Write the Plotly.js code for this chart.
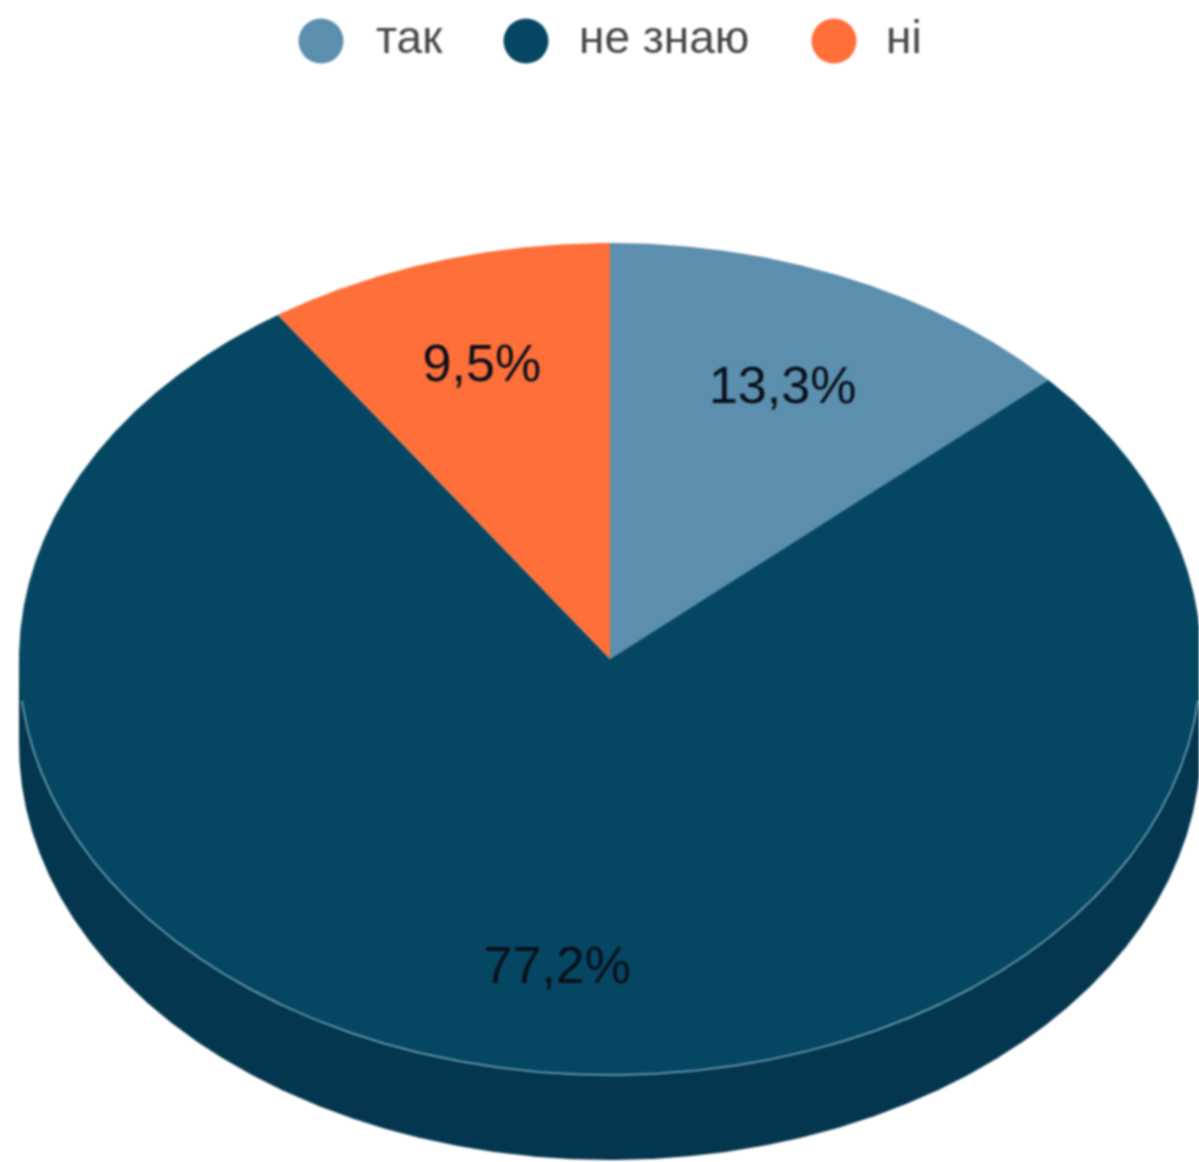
<!DOCTYPE html>
<html>
<head>
<meta charset="utf-8">
<script src="https://cdn.plot.ly/plotly-3.0.1.min.js"></script>
<style>
html,body{margin:0;padding:0;background:#fff;overflow:hidden}
#chart{width:1199px;height:1162px;filter:blur(1px)}
</style>
</head>
<body>
<div id="chart"></div>
<script>
// Data
const categories = ['так', 'не знаю', 'ні'];
const shares = [13.3, 77.2, 9.5];
const shareLabels = ['13,3%', '77,2%', '9,5%'];

// Styles
const sliceColors = ['#5b8fad', '#054763', '#fe6f39'];
const wallColor = '#04374f';
const rimColor = 'rgba(175,215,235,0.7)';
const labelColor = '#0a0f1a';
const legendTextColor = '#464646';

// Pixel layout of the tilted disc
const W = 1199, H = 1162;
const cx = 610, cy = 659, rx = 591, ry = 416, depth = 85;
const depthU = depth / ry;
const labelR = 0.72;
const labelNudgeX = [0, -2, -3];
const labelNudgeY = [5, 14, -5];
const legendX = [321, 526, 834];
const legendTextX = [376, 579, 886];
const legendY = 41;

// Disc is in unit coordinates: ellipse is x = sin(a), y = cos(a), scaled by the axes
const pt = a => [Math.sin(a), Math.cos(a)];
const arc = (a0, a1, dy) => {
  const n = Math.max(2, Math.ceil(Math.abs(a1 - a0) / 0.005));
  const xs = [], ys = [];
  for (let i = 0; i <= n; i++) {
    const p = pt(a0 + (a1 - a0) * i / n);
    xs.push(p[0]); ys.push(p[1] - (dy || 0));
  }
  return [xs, ys];
};

const total = shares.reduce((s, v) => s + v, 0);
const traces = [];

// Side wall
const wallLo = arc(Math.PI / 2, 3 * Math.PI / 2, depthU);
traces.push({
  type: 'scatter', mode: 'lines', fill: 'toself', fillcolor: wallColor,
  line: {width: 0, color: wallColor}, hoverinfo: 'skip', showlegend: false,
  x: [1, ...wallLo[0], -1, 1],
  y: [0, ...wallLo[1], 0, 0]
});

// Slices
let acc = 0;
const mids = [];
shares.forEach((v, i) => {
  const a0 = acc / total * 2 * Math.PI;
  acc += v;
  const a1 = acc / total * 2 * Math.PI;
  mids.push((a0 + a1) / 2);
  const [xs, ys] = arc(a0, a1);
  traces.push({
    type: 'scatter', mode: 'lines', fill: 'toself', fillcolor: sliceColors[i],
    line: {width: 0, color: sliceColors[i]}, hoverinfo: 'skip', showlegend: false,
    name: categories[i],
    x: [0, ...xs, 0], y: [0, ...ys, 0]
  });
});

// Front rim highlight
const rimMargin = 0.1;
const rim = arc(Math.PI / 2 + rimMargin, 3 * Math.PI / 2 - rimMargin);
traces.push({
  type: 'scatter', mode: 'lines', line: {width: 1.5, color: rimColor},
  hoverinfo: 'skip', showlegend: false, x: rim[0], y: rim[1]
});

// Slice labels
traces.push({
  type: 'scatter', mode: 'text', hoverinfo: 'skip', showlegend: false,
  x: mids.map((a, i) => pt(a)[0] * labelR + labelNudgeX[i] / rx),
  y: mids.map((a, i) => pt(a)[1] * labelR - labelNudgeY[i] / ry),
  text: shareLabels,
  textposition: 'middle center',
  textfont: {family: 'Liberation Sans, Arial, sans-serif', size: 52, color: labelColor}
});

// Legend drawn on a pixel-scaled overlay
traces.push({
  type: 'scatter', mode: 'markers', xaxis: 'x2', yaxis: 'y2', hoverinfo: 'skip', showlegend: false,
  x: legendX, y: categories.map(() => legendY),
  marker: {size: 45, color: sliceColors, line: {width: 0}}
});
traces.push({
  type: 'scatter', mode: 'text', xaxis: 'x2', yaxis: 'y2', hoverinfo: 'skip', showlegend: false,
  x: legendTextX, y: categories.map(() => legendY),
  text: categories,
  textposition: 'middle right',
  textfont: {family: 'Liberation Sans, Arial, sans-serif', size: 46, color: legendTextColor}
});

const hidden = {visible: false, fixedrange: true, showgrid: false, zeroline: false};
const layout = {
  width: W, height: H,
  margin: {l: 0, r: 0, t: 0, b: 0, pad: 0},
  paper_bgcolor: '#fff', plot_bgcolor: '#fff',
  showlegend: false,
  xaxis: {...hidden, domain: [0, 1], range: [-cx / rx, (W - cx) / rx]},
  yaxis: {...hidden, domain: [0, 1], range: [(cy - H) / ry, cy / ry]},
  xaxis2: {...hidden, overlaying: 'x', range: [0, W]},
  yaxis2: {...hidden, overlaying: 'y', range: [H, 0]}
};
Plotly.newPlot('chart', traces, layout, {displayModeBar: false, staticPlot: true});
</script>
</body>
</html>
